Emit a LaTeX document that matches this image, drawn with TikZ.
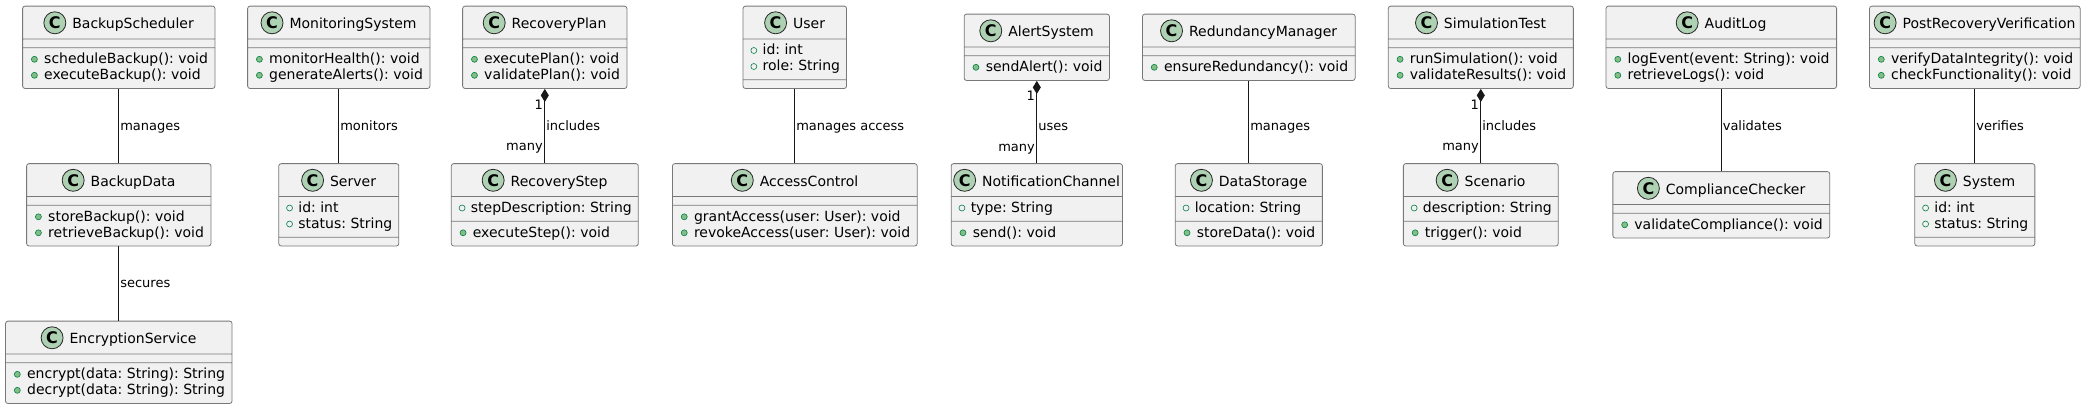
\documentclass[tikz,border=0pt]{standalone}
\usepackage{fontspec}
\setmainfont{DejaVu Sans}
\usepackage{xcolor}
\usepackage{tikz}
\usetikzlibrary{shapes.multipart, arrows.meta}
\definecolor{classfill}{RGB}{241,241,241}
\definecolor{classborder}{RGB}{120,120,120}
\definecolor{badgefill}{RGB}{173,209,178}
\definecolor{methfill}{RGB}{132,190,132}
\definecolor{memberline}{RGB}{3,128,72}
\definecolor{linkcolor}{RGB}{24,24,24}

\newcommand{\mdot}{\tikz[baseline=-4.3pt]\filldraw[draw=memberline, fill=methfill, line width=0.6pt] (0,0) circle (3pt);}
\newcommand{\fdot}{\tikz[baseline=-4.3pt]\draw[draw=memberline, line width=0.6pt] (0,0) circle (3pt);}
\newcommand{\cname}[1]{\rule[-6pt]{0pt}{24pt}\kern28.5pt #1}
\newcommand{\mrow}[1]{\rule[-4.5pt]{0pt}{16pt}\kern6pt\mdot\kern6.5pt #1\kern4.5pt}
\newcommand{\frow}[1]{\rule[-4.5pt]{0pt}{16pt}\kern5pt\fdot\kern5.5pt #1\kern4pt}
\newcommand{\members}[1]{\renewcommand{\arraystretch}{0.9}\begin{tabular}{@{}l@{}}#1\end{tabular}}
\newcommand{\nomembers}{\kern1pt}

\begin{document}
\frenchspacing
\begin{tikzpicture}[
    x=1pt, y=-1pt,
    umlclass/.style={rectangle split, rectangle split parts=3, rectangle split part align={center,left,left},
        draw=classborder, fill=classfill, line width=0.8pt, rounded corners=2.5pt,
        inner xsep=2.5pt, inner ysep=4pt, font=\fontsize{14}{16}\selectfont},
    badge/.style={circle, draw=black!85, fill=badgefill, line width=0.8pt, inner sep=0pt, minimum size=22pt,
        font=\fontsize{16}{16}\selectfont\bfseries},
    link/.style={draw=linkcolor, line width=1pt},
    comp/.style={link, {Diamond[length=13pt, width=8pt]}-},
    lbl/.style={right, inner sep=1pt, font=\fontsize{13}{15}\selectfont, text height=10pt, text depth=3pt},
    mult/.style={left, inner sep=1.5pt, font=\fontsize{13}{15}\selectfont, text height=10pt, text depth=3pt}
]
    \path[use as bounding box, fill=white] (0,0) rectangle (2085,408);

    \node[umlclass] (backupscheduler) at (118.8,47.3) {\cname{BackupScheduler}\nodepart{second}\nomembers\nodepart{third}\members{\mrow{scheduleBackup(): void}\\\mrow{executeBackup(): void}}};
    \node[umlclass] (monitoringsystem) at (338.8,47.3) {\cname{MonitoringSystem}\nodepart{second}\nomembers\nodepart{third}\members{\mrow{monitorHealth(): void}\\\mrow{generateAlerts(): void}}};
    \node[umlclass] (recoveryplan) at (544.8,47.3) {\cname{RecoveryPlan}\nodepart{second}\nomembers\nodepart{third}\members{\mrow{executePlan(): void}\\\mrow{validatePlan(): void}}};
    \node[umlclass] (user) at (794.8,47.3) {\cname{User}\nodepart{second}\members{\frow{id: int}\\\frow{role: String}}\nodepart{third}\nomembers};
    \node[umlclass] (alertsystem) at (1036.8,47.3) {\cname{AlertSystem}\nodepart{second}\nomembers\nodepart{third}\mrow{sendAlert(): void}};
    \node[umlclass] (redundancymanager) at (1248.8,47.3) {\cname{RedundancyManager}\nodepart{second}\nomembers\nodepart{third}\mrow{ensureRedundancy(): void}};
    \node[umlclass] (simulationtest) at (1480.8,47.3) {\cname{SimulationTest}\nodepart{second}\nomembers\nodepart{third}\members{\mrow{runSimulation(): void}\\\mrow{validateResults(): void}}};
    \node[umlclass] (auditlog) at (1721.3,47.3) {\cname{AuditLog}\nodepart{second}\nomembers\nodepart{third}\members{\mrow{logEvent(event: String): void}\\\mrow{retrieveLogs(): void}}};
    \node[umlclass] (postrecoveryverification) at (1974.8,47.3) {\cname{PostRecoveryVerification}\nodepart{second}\nomembers\nodepart{third}\members{\mrow{verifyDataIntegrity(): void}\\\mrow{checkFunctionality(): void}}};

    \node[umlclass] (backupdata) at (118.8,204.8) {\cname{BackupData}\nodepart{second}\nomembers\nodepart{third}\members{\mrow{storeBackup(): void}\\\mrow{retrieveBackup(): void}}};
    \node[umlclass] (server) at (338.8,204.8) {\cname{Server}\nodepart{second}\members{\frow{id: int}\\\frow{status: String}}\nodepart{third}\nomembers};
    \node[umlclass] (recoverystep) at (544.8,204.8) {\cname{RecoveryStep}\nodepart{second}\frow{stepDescription: String}\nodepart{third}\mrow{executeStep(): void}};
    \node[umlclass] (accesscontrol) at (794.8,204.8) {\cname{AccessControl}\nodepart{second}\nomembers\nodepart{third}\members{\mrow{grantAccess(user: User): void}\\\mrow{revokeAccess(user: User): void}}};
    \node[umlclass] (notificationchannel) at (1036.8,204.8) {\cname{NotificationChannel}\nodepart{second}\frow{type: String}\nodepart{third}\mrow{send(): void}};
    \node[umlclass] (datastorage) at (1248.8,204.8) {\cname{DataStorage}\nodepart{second}\frow{location: String}\nodepart{third}\mrow{storeData(): void}};
    \node[umlclass] (scenario) at (1480.8,204.8) {\cname{Scenario}\nodepart{second}\frow{description: String}\nodepart{third}\mrow{trigger(): void}};
    \node[umlclass] (compliancechecker) at (1721.3,204.8) {\cname{ComplianceChecker}\nodepart{second}\nomembers\nodepart{third}\mrow{validateCompliance(): void}};
    \node[umlclass] (system) at (1974.8,204.8) {\cname{System}\nodepart{second}\members{\frow{id: int}\\\frow{status: String}}\nodepart{third}\nomembers};

    \node[umlclass] (encryptionservice) at (118.8,362.3) {\cname{EncryptionService}\nodepart{second}\nomembers\nodepart{third}\members{\mrow{encrypt(data: String): String}\\\mrow{decrypt(data: String): String}}};

    \foreach \c in {backupscheduler, monitoringsystem, recoveryplan, user, alertsystem, redundancymanager,
        simulationtest, auditlog, postrecoveryverification, backupdata, server, recoverystep, accesscontrol,
        notificationchannel, datastorage, scenario, compliancechecker, system, encryptionservice}
        \node[badge] (\c-badge) at ([xshift=11pt, yshift=5.7pt]\c.text) {C};

    \draw[link] (backupscheduler) -- node[lbl, pos=0.515] {manages} (backupdata);
    \draw[link] (backupdata) -- node[lbl, pos=0.51] {secures} (encryptionservice);
    \draw[link] (monitoringsystem) -- node[lbl, pos=0.515] {monitors} (server);
    \draw[comp] (recoveryplan) -- node[lbl, pos=0.515] {includes} node[mult, pos=0.227] {1} node[mult, pos=0.782] {many} (recoverystep);
    \draw[link] (user) -- node[lbl, pos=0.515] {manages access} (accesscontrol);
    \draw[comp] (alertsystem) -- node[lbl, pos=0.561] {uses} node[mult, pos=0.194] {1} node[mult, pos=0.814] {many} (notificationchannel);
    \draw[link] (redundancymanager) -- node[lbl, pos=0.561] {manages} (datastorage);
    \draw[comp] (simulationtest) -- node[lbl, pos=0.515] {includes} node[mult, pos=0.227] {1} node[mult, pos=0.782] {many} (scenario);
    \draw[link] (auditlog) -- node[lbl, pos=0.467] {validates} (compliancechecker);
    \draw[link] (postrecoveryverification) -- node[lbl, pos=0.515] {verifies} (system);
\end{tikzpicture}
\end{document}
